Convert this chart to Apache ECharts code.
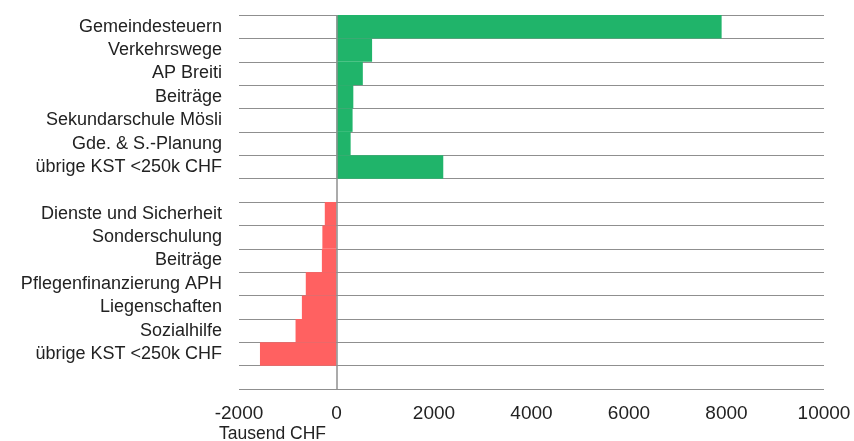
<!DOCTYPE html>
<html>
<head>
<meta charset="utf-8">
<script src="https://cdn.jsdelivr.net/npm/echarts@6/dist/echarts.min.js"></script>
<style>
  html, body { margin: 0; padding: 0; background: #ffffff; }
  #chart { width: 854px; height: 441px; }
</style>
</head>
<body>
<div id="chart"></div>
<script>
// Cost centres with a surplus (green) and a shortfall (red), in thousand CHF
const surplusLabels = ['Gemeindesteuern', 'Verkehrswege', 'AP Breiti', 'Beiträge',
  'Sekundarschule Mösli', 'Gde. & S.-Planung', 'übrige KST <250k CHF'];
const surplusValues = [7900, 730, 540, 345, 330, 290, 2190];

const deficitLabels = ['Dienste und Sicherheit', 'Sonderschulung', 'Beiträge',
  'Pflegenfinanzierung APH', 'Liegenschaften', 'Sozialhilfe', 'übrige KST <250k CHF'];
const deficitValues = [-240, -290, -300, -630, -710, -840, -1570];

const xTicks = [-2000, 0, 2000, 4000, 6000, 8000, 10000];
const axisUnit = 'Tausend CHF';

// Row layout: surplus rows, an empty spacer row, deficit rows, an empty spacer row
const rowLabels = [...surplusLabels, '', ...deficitLabels, ''];
const rowKeys = rowLabels.map((_, i) => 'r' + i);
const surplusData = [...surplusValues, ...Array(rowLabels.length - surplusValues.length).fill(null)];
const deficitData = [...Array(surplusValues.length + 1).fill(null), ...deficitValues, null];

const FONT = '"Liberation Sans", Arial, Helvetica, sans-serif';
const GRID_COLOR = '#8f8f8f';

const chart = echarts.init(document.getElementById('chart'), null, { renderer: 'canvas' });
chart.setOption({
  animation: false,
  backgroundColor: '#ffffff',
  title: {
    text: axisUnit,
    left: 219,
    top: 425,
    padding: 0,
    textStyle: { fontFamily: FONT, fontSize: 17.5, fontWeight: 'normal', color: '#222' }
  },
  grid: { left: 239, right: 30, top: 15, bottom: 52, containLabel: false },
  xAxis: {
    type: 'value',
    min: xTicks[0],
    max: xTicks[xTicks.length - 1],
    interval: xTicks[1] - xTicks[0],
    axisLine: { show: false },
    axisTick: { show: false },
    splitLine: { show: false },
    axisLabel: {
      margin: 15,
      fontFamily: FONT,
      fontSize: 19,
      color: '#222',
      formatter: (v) => String(v)
    }
  },
  yAxis: {
    type: 'category',
    inverse: true,
    data: rowKeys,
    axisLine: { show: false },
    axisTick: { show: false },
    axisLabel: {
      interval: 0,
      margin: 17,
      fontFamily: FONT,
      fontSize: 18,
      color: '#222',
      formatter: (v, i) => rowLabels[i]
    },
    splitLine: { show: true, interval: 0, lineStyle: { color: GRID_COLOR, width: 1.2 } }
  },
  series: [
    {
      name: 'Mehrertrag',
      type: 'bar',
      stack: 'kst',
      data: surplusData,
      barCategoryGap: '0%',
      itemStyle: { color: '#20b46a' },
      markLine: {
        silent: true,
        symbol: 'none',
        label: { show: false },
        lineStyle: { color: GRID_COLOR, type: 'solid', width: 1.5 },
        data: [{ xAxis: 0 }]
      }
    },
    {
      name: 'Mehraufwand',
      type: 'bar',
      stack: 'kst',
      data: deficitData,
      barCategoryGap: '0%',
      itemStyle: { color: '#ff6161' }
    }
  ]
});
</script>
</body>
</html>
